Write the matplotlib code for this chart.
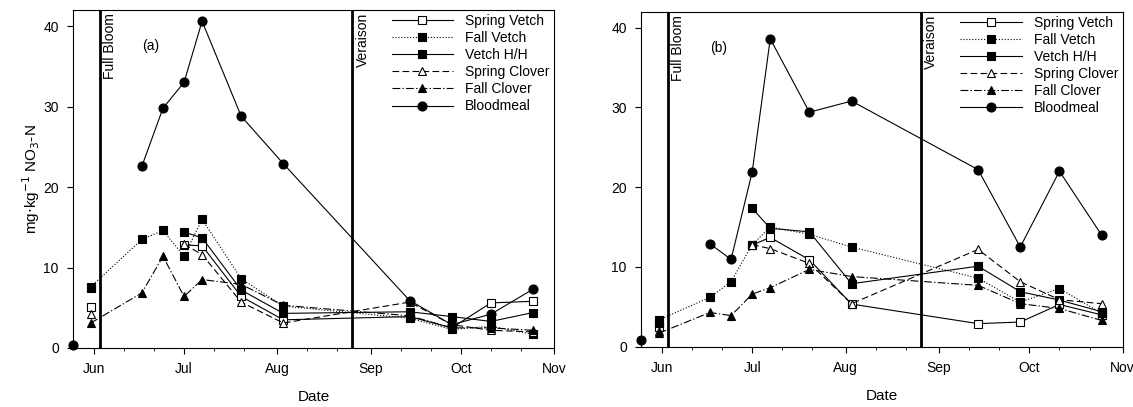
import numpy as np
import matplotlib
matplotlib.use("Agg")
import matplotlib.pyplot as plt
import matplotlib.dates as mdates
from matplotlib.ticker import FixedLocator
import datetime as dt

plt.rcParams['font.family'] = ['Liberation Sans', 'DejaVu Sans']

nan = np.nan
dates = ["2000-05-25", "2000-05-31", "2000-06-17", "2000-06-24", "2000-07-01", "2000-07-07",
         "2000-07-20", "2000-08-03", "2000-09-14", "2000-09-28", "2000-10-11", "2000-10-25"]

series_names = ["Spring Vetch", "Fall Vetch", "Vetch H/H", "Spring Clover", "Fall Clover", "Bloodmeal"]

# Panel (a)
a_spring_vetch  = [nan, 5.1, nan, nan, 12.8, 12.7, 6.4, 3.5, 3.9, 2.5, 5.6, 5.8]
a_fall_vetch    = [nan, 7.6, 13.5, 14.6, 11.4, 16.0, 8.6, 5.2, 3.7, 2.3, 2.7, 1.7]
a_vetch_hh      = [nan, 7.4, nan, nan, 14.4, 13.7, 7.2, 4.3, 4.5, 3.9, 3.3, 4.4]
a_spring_clover = [nan, 4.2, nan, nan, 12.9, 11.6, 5.7, 3.1, 5.7, 2.9, 2.2, 2.0]
a_fall_clover   = [nan, 3.1, 6.85, 11.4, 6.4, 8.5, 7.9, 5.3, 4.0, 2.5, 2.5, 2.2]
a_bloodmeal     = [0.4, nan, 22.6, 29.8, 33.0, 40.6, 28.8, 22.9, 5.9, 2.9, 4.2, 7.3]

# Panel (b)
b_spring_vetch  = [nan, 2.5, nan, nan, 12.75, 13.7, 10.9, 5.35, 2.9, 3.1, 5.3, 4.0]
b_fall_vetch    = [nan, 3.35, 6.2, 8.15, 12.8, 15.0, 14.1, 12.5, 8.6, 5.6, 7.3, 4.2]
b_vetch_hh      = [nan, 3.0, nan, nan, 17.35, 14.85, 14.4, 7.9, 10.1, 6.9, 5.85, 4.4]
b_spring_clover = [nan, 2.0, nan, nan, 12.8, 12.3, 10.45, 5.4, 12.2, 8.15, 5.9, 5.4]
b_fall_clover   = [nan, 1.7, 4.3, 3.9, 6.6, 7.4, 9.7, 8.8, 7.7, 5.4, 4.8, 3.3]
b_bloodmeal     = [0.9, nan, 12.9, 10.95, 21.9, 38.6, 29.4, 30.8, 22.2, 12.5, 22.0, 14.0]

full_bloom = "2000-06-03"
veraison = "2000-08-26"
month_ticks = ["2000-06-01", "2000-07-01", "2000-08-01", "2000-09-01", "2000-10-01", "2000-11-01"]
month_labels = ["Jun", "Jul", "Aug", "Sep", "Oct", "Nov"]
yticks = [0, 10, 20, 30, 40]

styles = [
    dict(ls='-',  marker='s', mfc='white', mec='black', ms=5.5),
    dict(ls=':',  marker='s', mfc='black', mec='black', ms=5.5),
    dict(ls='-',  marker='s', mfc='black', mec='black', ms=5.5),
    dict(ls=(0, (6, 3)), marker='^', mfc='white', mec='black', ms=6),
    dict(ls=(0, (7, 2, 1.2, 2)), marker='^', mfc='black', mec='black', ms=6),
    dict(ls='-',  marker='o', mfc='black', mec='black', ms=6.5),
]

x = [dt.datetime.strptime(d, "%Y-%m-%d") for d in dates]

fig = plt.figure(figsize=(11.33, 4.07), dpi=100)
axA = fig.add_axes([0.0642, 0.145, 0.4248, 0.8305])
axB = fig.add_axes([0.5655, 0.148, 0.4254, 0.8233])

panels = [
    (axA, [a_spring_vetch, a_fall_vetch, a_vetch_hh, a_spring_clover, a_fall_clover, a_bloodmeal], "(a)"),
    (axB, [b_spring_vetch, b_fall_vetch, b_vetch_hh, b_spring_clover, b_fall_clover, b_bloodmeal], "(b)"),
]

fb = dt.datetime.strptime(full_bloom, "%Y-%m-%d")
vr = dt.datetime.strptime(veraison, "%Y-%m-%d")
mt = [dt.datetime.strptime(d, "%Y-%m-%d") for d in month_ticks]

minor = []
for m in range(5, 11):
    for d in (11, 21):
        minor.append(mdates.date2num(dt.datetime(2000, m, d)))

for ax, data, tag in panels:
    handles = []
    for name, vals, st in zip(series_names, data, styles):
        h, = ax.plot(x, vals, color='black', lw=0.8, label=name, clip_on=False,
                     mew=0.8, **st)
        handles.append(h)
    ax.axvline(fb, color='black', lw=2)
    ax.axvline(vr, color='black', lw=2)
    ax.text(fb + dt.timedelta(days=1.0), 41.6, "Full Bloom", rotation=90, ha='left', va='top', fontsize=10)
    ax.text(vr + dt.timedelta(days=1.0), 41.6, "Veraison", rotation=90, ha='left', va='top', fontsize=10)
    ax.text(dt.datetime(2000, 6, 17), 37.5, tag, ha='left', va='center', fontsize=10)
    ax.set_xlim(dt.datetime(2000, 5, 25), dt.datetime(2000, 11, 1))
    ax.set_ylim(0, 42)
    ax.set_xticks(mt)
    ax.set_xticklabels(month_labels, fontsize=10)
    ax.xaxis.set_minor_locator(FixedLocator(minor))
    ax.set_yticks(yticks)
    ax.set_yticklabels([str(v) for v in yticks], fontsize=10)
    ax.tick_params(axis='both', which='major', direction='out', length=4, width=0.8, pad=6)
    ax.tick_params(axis='x', which='minor', direction='out', length=2, width=0.6)
    ax.set_xlabel("Date", fontsize=11, labelpad=10)
    for s in ax.spines.values():
        s.set_linewidth(0.8)
    leg = ax.legend(handles=handles, loc='upper right', frameon=False, fontsize=10,
                    handlelength=4.4, numpoints=1, labelspacing=0.22, handletextpad=0.9,
                    borderaxespad=0.0, borderpad=0.3, bbox_to_anchor=(1.0, 1.0))

axA.set_ylabel(r"mg$\cdot$kg$^{-1}$ NO$_3$-N", fontsize=11, labelpad=1)

fig.savefig("out.png", dpi=100)
